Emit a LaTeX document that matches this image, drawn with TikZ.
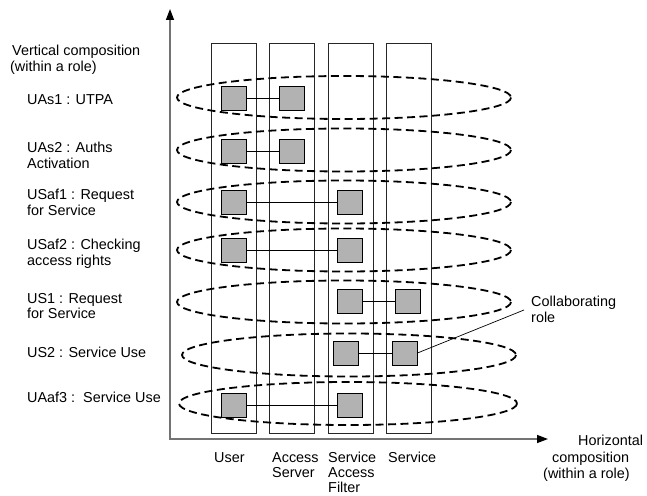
\documentclass[tikz,border=0pt]{standalone}
\usepackage{fontspec}
\setmainfont{Liberation Sans}
\usetikzlibrary{arrows.meta}
\begin{document}
\begin{tikzpicture}[x=1pt,y=-1pt,
  lbl/.style={anchor=base west,inner sep=0pt,font=\fontsize{14.4}{16}\selectfont},
  lane/.style={draw=black!85,line width=0.8pt,minimum width=45pt,minimum height=390pt,anchor=north west,inner sep=0pt},
  axis/.style={draw=black!55,line width=1.4pt},
  tip/.style={Triangle[length=11pt,width=8pt,color=black]},
  rolering/.style={draw=black,line width=1.8pt,dash pattern=on 8pt off 4.5pt},
  part/.style={draw=black,line width=0.9pt,fill=black!30,minimum width=25pt,minimum height=24pt,inner sep=0pt},
  link/.style={draw=black,line width=0.8pt}]
\useasboundingbox (0,0) rectangle (647,495);

% composition axes
\coordinate (origin) at (170,439);
\coordinate (ytip) at (170,9);
\coordinate (xtip) at (548,439);
\draw[axis,{Triangle[length=11pt,width=8pt,color=black]}-{Triangle[length=11pt,width=8pt,color=black]}] (ytip) -- (origin) -- (xtip);

% role lanes
\node[lane] (user) at (211,43) {};
\node[lane] (server) at (269,43) {};
\node[lane] (filter) at (328,43) {};
\node[lane] (service) at (386,43) {};

% collaborations (dashed rings)
\draw[rolering] (344,97.5) ellipse [x radius=167, y radius=21.5];
\draw[rolering] (344,150) ellipse [x radius=167, y radius=21.5];
\draw[rolering] (344,202) ellipse [x radius=167, y radius=21.5];
\draw[rolering] (344,250) ellipse [x radius=167, y radius=21.5];
\draw[rolering] (344,302) ellipse [x radius=167, y radius=21.5];
\draw[rolering] (349,355) ellipse [x radius=167, y radius=21.5];
\draw[rolering] (348,403.5) ellipse [x radius=169, y radius=21.5];

% role parts
\node[part] (a1) at (233.5,98) {};
\node[part] (b1) at (291.5,98) {};
\node[part] (a2) at (233.5,151) {};
\node[part] (b2) at (291.5,151) {};
\node[part] (a3) at (233.5,202.5) {};
\node[part] (c3) at (349.5,202.5) {};
\node[part] (a4) at (233.5,250) {};
\node[part] (c4) at (349.5,250) {};
\node[part] (c5) at (349.5,301) {};
\node[part] (d5) at (407.5,301) {};
\node[part] (c6) at (346,353) {};
\node[part] (d6) at (404.5,353) {};
\node[part] (a7) at (233.5,405) {};
\node[part] (c7) at (349.5,405) {};

\draw[link] (a1) -- (b1);
\draw[link] (a2) -- (b2);
\draw[link] (a3) -- (c3);
\draw[link] (a4) -- (c4);
\draw[link] (c5) -- (d5);
\draw[link] (c6) -- (d6);
\draw[link] (a7) -- (c7);

% callout
\coordinate (callend) at (524,310);
\draw[link,line width=0.7pt] (d6.east) -- (callend);
\node[lbl] (collab1) at (531,306) {Collaborating};
\node[lbl] (collab2) at (531,322) {role};

% vertical axis title and rows
\node[lbl] (vt1) at (12,56) {Vertical composition};
\node[lbl] (vt2) at (10,71) {(within a role)};
\node[lbl] (r1) at (27,104) {UAs1 : UTPA};
\node[lbl] (r2a) at (27,152) {UAs2 : Auths};
\node[lbl] (r2b) at (27,168) {Activation};
\node[lbl] (r3a) at (27,199.5) {USaf1 : Request};
\node[lbl] (r3b) at (27,215) {for Service};
\node[lbl] (r4a) at (27,249.5) {USaf2 : Checking};
\node[lbl] (r4b) at (27,265) {access rights};
\node[lbl] (r5a) at (27,303) {US1 : Request};
\node[lbl] (r5b) at (27,318) {for Service};
\node[lbl] (r6) at (27,357) {US2 : Service Use};
\node[lbl] (r7) at (27,402) {UAaf3 :\ \ Service Use};

% lane names
\node[lbl] (l1) at (214,462) {User};
\node[lbl] (l2a) at (272,462) {Access};
\node[lbl] (l2b) at (272,477) {Server};
\node[lbl] (l3a) at (328,462) {Service};
\node[lbl] (l3b) at (328,477) {Access};
\node[lbl] (l3c) at (328,492) {Filter};
\node[lbl] (l4) at (388,462) {Service};

% horizontal axis title
\node[lbl] (ht1) at (578,445) {Horizontal};
\node[lbl] (ht2) at (552,462) {composition};
\node[lbl] (ht3) at (543,478) {(within a role)};
\end{tikzpicture}
\end{document}
